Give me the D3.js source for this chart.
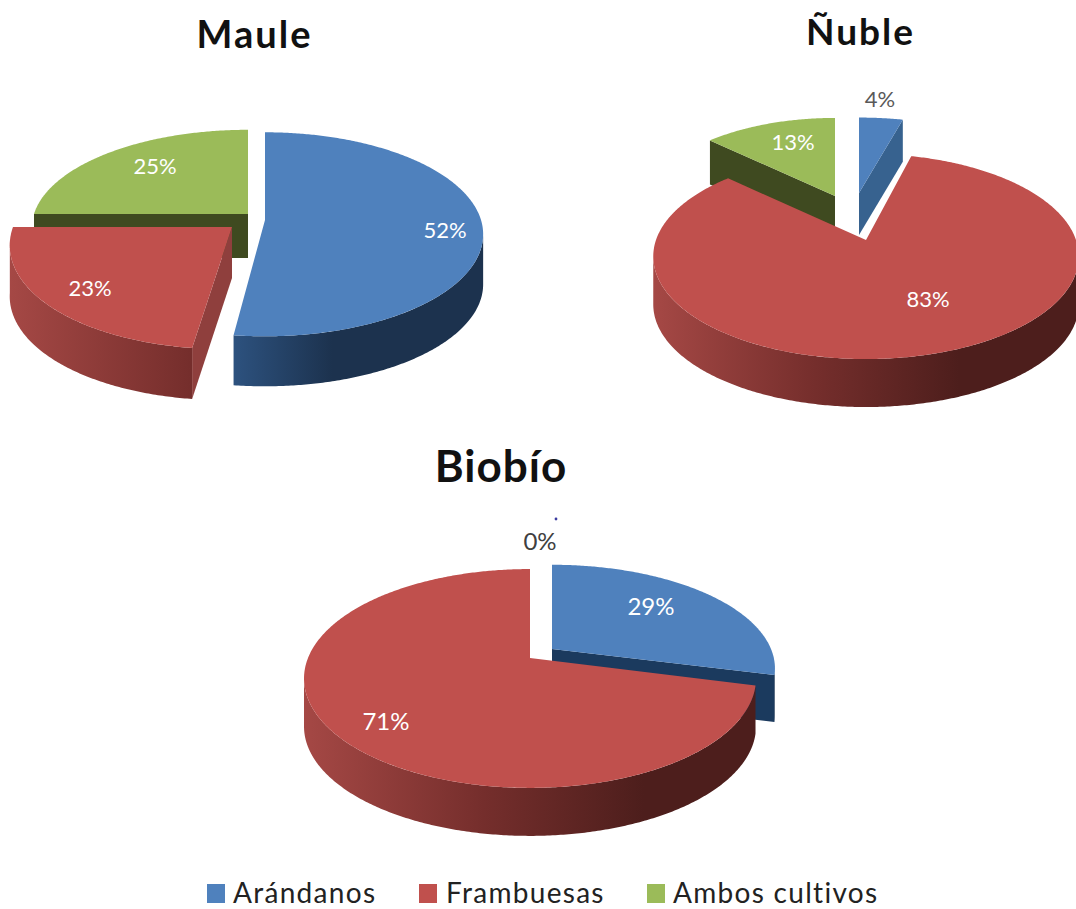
<!DOCTYPE html>
<html><head><meta charset="utf-8">
<script src="https://cdn.jsdelivr.net/npm/d3@7"></script>
<style>html,body{margin:0;padding:0;background:#fff;overflow:hidden}svg{display:block}text{font-family:Lato,"Noto Sans",sans-serif}</style>
</head><body>
<svg id="c" width="1076" height="909"></svg>
<script>
// DATA
const categories = ["Arándanos", "Frambuesas", "Ambos cultivos"];
const regions = ["Maule", "Ñuble", "Biobío"];
const maule = [52, 23, 25];
const nuble = [4, 83, 13];
const biobio = [29, 71, 0];

// STYLE / LAYOUT
const topColors = ["#4f81bd", "#c0504d", "#9bbb59"];
const faceColors = [["#1b3a5e", "#37628f"], ["#8f3f3d", "#8f3f3d"], ["#3f4a20", "#3f4a20"]];
const wallStops = [
  [["0", "#3f6ea8"], [".47", "#2d527f"], [".68", "#1c324e"], ["1", "#1c324e"]],
  [["0", "#a54845"], [".38", "#752e2c"], [".72", "#4d1e1c"], ["1", "#4d1e1c"]],
  [["0", "#5f7530"], ["1", "#3f4a20"]]
];
const pieLayouts = [
  { title: [254.5, 48], titleSize: 38, titleSpacing: 2, labelSize: 22, span: [10, 484], order: [2, 1, 0], slices: [
    { a: [265, 220], rx: 216, ry: 100, k: .14, sk: 0, d: 50, faces: [], label: [445, 230], color: "#fff" },
    { a: [232, 227], rx: 219, ry: 105, k: .14, sk: .066, d: 51, faces: ["start"], label: [90, 288], color: "#fff" },
    { a: [248, 214], rx: 214, ry: 96, k: .14, sk: 0, d: 44, faces: ["start"], label: [155, 166], color: "#fff" } ] },
  { title: [860.5, 45], titleSize: 37, titleSpacing: 2, labelSize: 22, span: [654, 1078], order: [2, 0, 1], slices: [
    { a: [859, 193], rx: 200, ry: 86, k: .14, sk: 0, d: 42, faces: ["end"], label: [880, 99], color: "#595959", faceShade: 1 },
    { a: [866, 240], rx: 210, ry: 100, k: .16, sk: 0, d: 48, faces: [], label: [928, 299], color: "#fff" },
    { a: [835, 196], rx: 188, ry: 89, k: .14, sk: 0, d: 44, faces: ["start"], label: [793, 142], color: "#fff" } ] },
  { title: [501, 482], titleSize: 44, titleSpacing: 1, labelSize: 24, span: [304, 776], order: [0, 1], slices: [
    { a: [552, 649], rx: 219, ry: 100, k: .187, sk: 0, d: 47, faces: ["end"], label: [651, 606], color: "#fff" },
    { a: [530, 658], rx: 222, ry: 105.6, k: .187, sk: 0, d: 48, faces: [], label: [386, 721], color: "#fff" },
    { a: [540, 600], rx: 0, ry: 0, k: 0, sk: 0, d: 0, faces: [], label: [540, 541], color: "#404040" } ] }
];
const legendX = [[207, 233], [419, 446], [647, 673]];

const seriesByRegion = [maule, nuble, biobio];
const svg = d3.select("#c");
const defs = svg.append("defs");
const pie = d3.pie().sort(null).startAngle(0).endAngle(2 * Math.PI);
const line = d3.line();

function project(s, t) {
  const u = Math.sin(t), v = Math.cos(t), w = 1 + s.k * v;
  const dy = -s.ry * v / w;
  return [s.a[0] + s.rx * u / w - s.sk * dy, s.a[1] + dy];
}
const samples = (t0, t1) => {
  const n = Math.max(2, Math.ceil((t1 - t0) / 0.01));
  return d3.range(n + 1).map(i => t0 + (t1 - t0) * i / n);
};
const drop = (p, d) => [p[0], p[1] + d];

seriesByRegion.forEach((values, r) => {
  const layout = pieLayouts[r];
  const arcs = pie(values);
  const g = svg.append("g");
  wallStops.forEach((stops, c) => {
    const grad = defs.append("linearGradient").attr("id", `w${r}${c}`)
      .attr("gradientUnits", "userSpaceOnUse")
      .attr("x1", layout.span[0]).attr("x2", layout.span[1]).attr("y1", 0).attr("y2", 0);
    stops.forEach(s => grad.append("stop").attr("offset", s[0]).attr("stop-color", s[1]));
  });
  layout.order.forEach(i => {
    const arc = arcs[i], s = layout.slices[i];
    if (arc.endAngle - arc.startAngle <= 0) return;
    const t0 = arc.startAngle, t1 = arc.endAngle;
    // radial cut faces
    s.faces.forEach(f => {
      const p = project(s, f === "start" ? t0 : t1);
      g.append("path")
        .attr("d", line([s.a, p, drop(p, s.d), drop(s.a, s.d)]) + "Z")
        .attr("fill", faceColors[i][s.faceShade || 0]);
    });
    // outer rim wall (only the part that faces the viewer)
    const vis0 = Math.acos(-s.k), vis1 = 2 * Math.PI - vis0;
    const w0 = Math.max(t0, vis0), w1 = Math.min(t1, vis1);
    if (w1 > w0) {
      const rim = samples(w0, w1).map(t => project(s, t));
      g.append("path")
        .attr("d", line(rim.concat(rim.slice().reverse().map(p => drop(p, s.d)))) + "Z")
        .attr("fill", `url(#w${r}${i})`);
    }
    // top surface
    const edge = samples(t0, t1).map(t => project(s, t));
    g.append("path").attr("d", line([s.a].concat(edge)) + "Z").attr("fill", topColors[i]);
  });
  // value labels
  arcs.forEach((arc, i) => {
    const s = layout.slices[i];
    g.append("text").attr("x", s.label[0]).attr("y", s.label[1]).attr("dy", ".36em")
      .attr("text-anchor", "middle").attr("font-size", layout.labelSize).attr("fill", s.color)
      .text(values[i] + "%");
  });
  // title
  svg.append("text").attr("x", layout.title[0]).attr("y", layout.title[1])
    .attr("text-anchor", "middle").attr("font-size", layout.titleSize).attr("font-weight", 700)
    .attr("letter-spacing", layout.titleSpacing).attr("fill", "#111").text(regions[r]);
});

// stray dot above the 0% label
svg.append("circle").attr("cx", 556).attr("cy", 519).attr("r", 1.4).attr("fill", "#3c3ca0");

// legend
const legend = svg.selectAll("g.leg").data(categories).join("g").attr("class", "leg");
legend.append("rect").attr("x", (d, i) => legendX[i][0]).attr("y", 884).attr("width", 18).attr("height", 19)
  .attr("fill", (d, i) => topColors[i]);
legend.append("text").attr("x", (d, i) => legendX[i][1]).attr("y", 903)
  .attr("font-size", 28).attr("letter-spacing", 1.3).attr("fill", "#222").text(d => d);
</script>
</body></html>
